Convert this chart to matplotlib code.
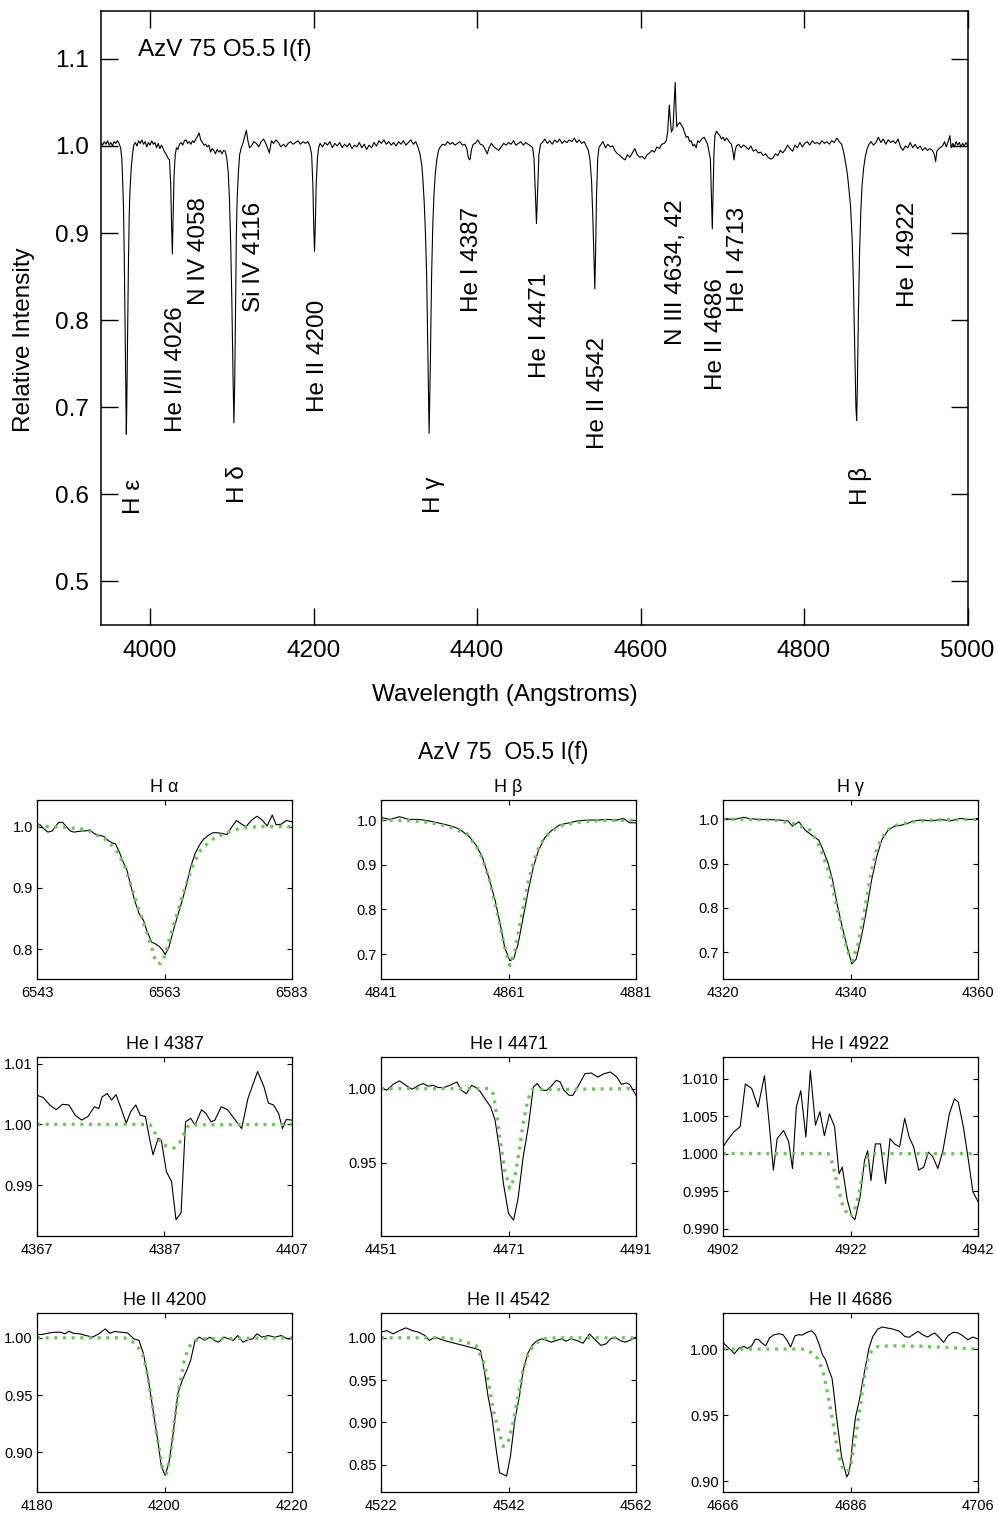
import matplotlib
matplotlib.use("Agg")
import matplotlib.pyplot as plt
from matplotlib.ticker import FormatStrFormatter

plt.rcParams["font.family"] = ["Liberation Sans", "DejaVu Sans"]

# ---------------- top panel: full blue spectrum ----------------
top_wave = [
    3940, 3942, 3944, 3946, 3948, 3950, 3952, 3954, 3956, 3958, 3960, 3962,
    # H epsilon
    3964, 3965.5, 3966.5, 3967.5, 3968.5, 3969.5, 3970.5, 3971, 3971.5, 3972.5,
    3973.5, 3974.5, 3975.5, 3977, 3978.5, 3980,
    3982, 3984, 3986, 3988, 3990, 3992, 3994, 3996, 3998, 4000,
    4002, 4004, 4006, 4008, 4010, 4012, 4014, 4016, 4018, 4020, 4022,
    # He I 4026
    4023.8, 4025.3, 4026.3, 4027.3, 4028.3, 4029.3, 4030.8, 4032.3,
    4034, 4036, 4038, 4040, 4042, 4044, 4046, 4048, 4050, 4052,
    4054, 4056, 4058, 4060, 4062, 4064, 4066, 4068, 4070, 4072,
    4074, 4076, 4078, 4080, 4082, 4084, 4086, 4088, 4090, 4092,
    # H delta
    4094, 4095.6, 4097.1, 4098.6, 4100.1, 4101.6, 4102.6, 4103.6, 4104.6, 4105.6,
    4106.6, 4108.1, 4109.6, 4111.6,
    # Si IV
    4113.6, 4115.6, 4117.8, 4119.7, 4121.7,
    4124, 4127, 4130, 4133, 4136, 4139, 4142, 4146, 4148.5, 4151,
    4154, 4157, 4160, 4163, 4166, 4169, 4172, 4175, 4178, 4181,
    4184, 4187, 4190, 4193, 4195.6,
    # He II 4200
    4197.7, 4199.2, 4200.2, 4201.2, 4202.2, 4203.2, 4204.7, 4206.2,
    4208, 4211, 4214, 4217, 4220, 4223, 4226, 4229, 4232, 4235,
    4238, 4241, 4244, 4247, 4250, 4253, 4256, 4259, 4262, 4265,
    4268, 4271, 4274, 4277, 4280, 4283, 4286, 4289, 4292, 4295,
    4298, 4301, 4304, 4307, 4310, 4313, 4316, 4319, 4322, 4325,
    4328,
    # H gamma
    4330.4, 4332.4, 4333.9, 4335.4, 4336.9, 4338.4, 4339.9, 4341.4, 4342.9, 4344.4,
    4345.9, 4347.4, 4348.9, 4350.9, 4352.9,
    4355, 4358, 4361, 4364, 4367, 4370, 4373, 4376, 4379, 4382,
    4385, 4387.5, 4389.5, 4391.3, 4393.3, 4395.3, 4398, 4401, 4404, 4407,
    4410.5, 4412.6, 4414.6, 4417.6, 4420.6, 4423.6, 4426.6, 4429.6, 4432.6, 4435.6,
    4438.6, 4441.6, 4444.6, 4447.6, 4450.6, 4453.6, 4456.6, 4459.6, 4462.6, 4465.6,
    # He I 4471
    4468.2, 4469.7, 4471.2, 4472.7, 4474.2, 4475.7, 4477.7,
    4480, 4483, 4486, 4489, 4492, 4495, 4498, 4501, 4504, 4507,
    4510, 4513, 4516, 4519, 4522, 4525, 4528, 4531, 4534,
    # He II 4542
    4536.1, 4538.1, 4540.1, 4541.6, 4543.1, 4544.1, 4545.1, 4546.1, 4547.6, 4549.1,
    4551, 4554, 4557, 4560, 4563, 4566, 4569, 4572, 4575, 4578,
    4581, 4584, 4587, 4590, 4593, 4596, 4599, 4602, 4605, 4608,
    4611, 4614, 4617, 4620, 4623, 4626, 4629, 4631.5,
    # N III emission
    4633.2, 4635.2, 4636.5, 4637.8, 4639.7, 4641.3, 4642.4, 4643.3, 4644.3, 4646,
    4648, 4650, 4652, 4654, 4656, 4658, 4660, 4662, 4664, 4666,
    4668, 4670, 4672, 4674, 4676, 4678, 4680, 4682,
    # He II 4686
    4685.5, 4686.5, 4687.8, 4688.8, 4689.8, 4691, 4693, 4695, 4697, 4699,
    4701, 4703, 4705, 4707, 4709,
    # He I 4713
    4711.3, 4713.3, 4714.4, 4715.8, 4717.3,
    4720, 4723, 4726, 4729, 4732, 4735, 4738, 4741, 4744, 4747,
    4750, 4753, 4756, 4759, 4762, 4765, 4768, 4771, 4774, 4777,
    4780, 4783, 4786, 4789, 4792, 4795, 4798, 4801, 4804, 4807,
    4810, 4813, 4816, 4819, 4822, 4825, 4828, 4831, 4834, 4837,
    4840, 4843,
    # H beta
    4846, 4848.5, 4851, 4853, 4855, 4857, 4859, 4860.5, 4862, 4863.5,
    4864.4, 4865.2, 4866.6, 4868, 4869.5, 4871, 4873, 4875, 4877, 4879,
    4882, 4885, 4888, 4891, 4894, 4897, 4900, 4903, 4906, 4909,
    4912, 4915, 4918, 4921, 4924, 4927, 4930, 4933, 4936, 4939,
    4942, 4945, 4948, 4951, 4954, 4957, 4959.5, 4961, 4962.5, 4965,
    4968, 4970, 4972, 4974, 4976, 4978.5, 4980, 4982, 4984, 4986,
    4988, 4990, 4992, 4994, 4996, 4998, 5000,
]
top_flux = [
    1.004, 1.001, 1.005, 1.002, 1.006, 1.001, 1.004, 1.000, 1.005, 1.003, 1.006, 1.003,
    0.998, 0.985, 0.960, 0.930, 0.870, 0.790, 0.710, 0.669, 0.700, 0.780,
    0.860, 0.920, 0.950, 0.975, 0.990, 1.001,
    1.004, 1.000, 1.006, 1.003, 1.007, 1.002, 1.005, 0.999, 1.004, 1.001,
    1.006, 1.002, 1.004, 0.998, 1.003, 0.997, 1.001, 0.997, 0.993, 0.990, 0.986,
    0.984, 0.955, 0.910, 0.876, 0.920, 0.965, 0.990, 0.998,
    0.996, 1.002, 1.004, 1.001, 1.006, 1.007, 1.003, 1.005, 1.002, 1.006,
    1.004, 1.008, 1.011, 1.015, 1.007, 1.004, 1.001, 1.002, 0.999, 1.001,
    0.993, 0.997, 0.995, 0.991, 0.996, 0.993, 0.995, 0.991, 0.995, 0.994,
    0.985, 0.970, 0.940, 0.890, 0.820, 0.730, 0.682, 0.730, 0.820, 0.900,
    0.940, 0.970, 0.990, 0.998,
    1.003, 1.010, 1.018, 1.006, 0.998,
    1.000, 1.005, 1.003, 0.999, 1.005, 1.008, 1.002, 0.992, 1.006, 1.003,
    1.007, 1.004, 0.999, 1.002, 0.999, 1.003, 1.005, 1.002, 1.004, 1.006,
    1.002, 1.005, 1.003, 1.005, 1.000,
    0.990, 0.955, 0.910, 0.879, 0.910, 0.955, 0.985, 0.998,
    1.003, 0.999, 1.004, 1.001, 1.005, 0.998, 1.003, 1.000, 1.004, 0.998,
    1.002, 0.999, 1.003, 0.997, 1.001, 0.999, 1.004, 0.998, 1.002, 0.996,
    1.001, 0.998, 1.004, 1.000, 1.006, 1.003, 1.007, 1.002, 1.005, 1.001,
    1.004, 1.000, 1.005, 1.002, 1.006, 1.001, 1.004, 1.007, 1.002, 1.005,
    0.998,
    0.990, 0.978, 0.960, 0.935, 0.900, 0.850, 0.760, 0.670, 0.750, 0.850,
    0.910, 0.945, 0.968, 0.985, 0.995,
    0.999, 1.002, 1.001, 1.005, 1.002, 1.004, 1.001, 1.003, 1.005, 1.001,
    1.002, 0.997, 0.986, 0.984, 0.996, 1.002, 1.003, 1.007, 1.002, 1.001,
    0.995, 0.991, 0.998, 1.003, 0.999, 0.997, 0.995, 0.999, 1.003, 1.001,
    1.004, 1.002, 1.006, 1.001, 1.003, 1.005, 1.001, 1.004, 1.002, 1.000,
    0.998, 0.985, 0.950, 0.911, 0.950, 0.990, 1.002,
    1.004, 1.008, 1.003, 1.006, 1.002, 1.007, 1.004, 1.008, 1.003, 1.006,
    1.004, 1.007, 1.005, 1.009, 1.004, 1.007, 1.003, 1.005, 0.999,
    0.995, 0.985, 0.960, 0.920, 0.870, 0.836, 0.880, 0.940, 0.985, 0.998,
    1.001, 1.005, 0.998, 1.002, 0.999, 1.000, 0.994, 0.991, 0.989, 0.986,
    0.984, 0.990, 0.987, 0.992, 0.997, 0.990, 0.987, 0.988, 0.985, 0.990,
    0.992, 0.995, 0.993, 0.999, 0.997, 1.002, 1.003, 1.006,
    1.016, 1.047, 1.030, 1.016, 1.020, 1.050, 1.073, 1.045, 1.022, 1.025,
    1.027, 1.024, 1.021, 1.015, 1.010, 1.011, 1.005, 1.006, 1.000, 1.002,
    0.998, 1.006, 1.004, 1.007, 1.009, 1.010, 1.006, 1.002,
    0.985, 0.950, 0.905, 0.950, 0.990, 1.012, 1.017, 1.014, 1.012, 1.008,
    1.010, 1.006, 1.009, 1.007, 1.004,
    1.002, 0.992, 0.984, 0.995, 1.000,
    1.002, 0.998, 1.001, 0.999, 0.996, 1.000, 0.994, 0.996, 0.992, 0.993,
    0.989, 0.991, 0.987, 0.985, 0.986, 0.991, 0.989, 0.995, 0.992, 0.996,
    1.001, 0.997, 0.994, 1.001, 0.998, 1.004, 0.999, 1.003, 1.005, 1.001,
    1.006, 1.003, 1.004, 1.002, 1.006, 1.003, 1.005, 1.002, 1.006, 1.004,
    1.009, 1.005,
    1.002, 0.993, 0.980, 0.968, 0.950, 0.930, 0.890, 0.840, 0.770, 0.700,
    0.685, 0.720, 0.810, 0.880, 0.925, 0.955, 0.975, 0.988, 0.996, 1.001,
    1.005, 1.001, 1.004, 1.010, 1.004, 1.008, 1.002, 1.007, 1.004, 1.006,
    1.003, 1.008, 0.999, 0.995, 1.000, 0.998, 1.004, 0.998, 1.002, 0.997,
    1.000, 0.995, 0.998, 0.995, 0.997, 0.995, 0.990, 0.982, 0.994, 0.997,
    0.999, 1.001, 1.005, 0.999, 1.004, 1.012, 0.998, 1.003, 0.999, 1.005,
    1.001, 1.004, 0.999, 1.003, 1.000, 1.004, 1.001,
]

line_labels = ["H ε", "He I/II 4026", "N IV 4058", "H δ", "Si IV 4116", "He II 4200",
               "H γ", "He I 4387", "He I 4471", "He II 4542", "N III 4634, 42",
               "He II 4686", "He I 4713", "H β", "He I 4922"]
label_x = [3980.4, 4031.8, 4060.0, 4107.6, 4127.2, 4205.5,
           4347.4, 4393.9, 4477.0, 4548.0, 4643.4,
           4692.4, 4719.3, 4868.5, 4927.2]
label_y = [0.578, 0.672, 0.818, 0.590, 0.809, 0.694,
           0.579, 0.809, 0.734, 0.652, 0.772,
           0.720, 0.809, 0.588, 0.815]

# ---------------- small panels: observed (black) and model (green) ----------------
ha_obs_w = [6543.0, 6543.5, 6544.0, 6544.7, 6545.4, 6545.8, 6546.4, 6547.0, 6547.6, 6548.2,
            6548.8, 6549.4, 6550.1, 6550.7, 6551.3, 6551.9, 6552.6, 6553.5, 6554.2, 6554.9,
            6555.3, 6555.9, 6556.4, 6557.1, 6557.7, 6558.3, 6559.0, 6559.7, 6560.3, 6561.0,
            6561.5, 6562.2, 6562.7, 6563.1, 6563.7, 6564.4, 6565.0, 6565.8, 6566.5, 6567.1,
            6567.8, 6568.5, 6569.1, 6569.9, 6570.6, 6571.3, 6572.0, 6572.8, 6573.4, 6574.3,
            6575.1, 6575.8, 6576.6, 6577.5, 6578.3, 6579.1, 6579.9, 6580.5, 6581.3, 6582.1,
            6583.0]
ha_obs_f = [1.005, 1.003, 0.997, 0.991, 0.993, 0.999, 1.007, 1.007, 1.000, 0.993,
            0.991, 0.992, 0.993, 0.993, 0.995, 0.989, 0.986, 0.984, 0.977, 0.973,
            0.972, 0.959, 0.945, 0.929, 0.904, 0.880, 0.858, 0.847, 0.828, 0.811,
            0.809, 0.804, 0.798, 0.791, 0.803, 0.831, 0.852, 0.880, 0.907, 0.934,
            0.956, 0.970, 0.979, 0.986, 0.990, 0.990, 0.989, 0.987, 0.997, 1.010,
            1.004, 1.000, 1.010, 1.017, 1.011, 1.001, 1.019, 1.003, 1.004, 1.010,
            1.008]
ha_mod_w = [6543.0, 6547.2, 6550.9, 6552.4, 6554.0, 6555.6, 6556.9, 6558.0, 6559.0, 6560.1,
            6561.0, 6561.6, 6562.4, 6563.1, 6563.7, 6564.5, 6565.3, 6566.1, 6566.9, 6567.7,
            6568.7, 6569.8, 6570.8, 6571.9, 6573.2, 6574.5, 6576.1, 6578.2, 6583.0]
ha_mod_f = [1.001, 0.999, 0.995, 0.986, 0.978, 0.959, 0.932, 0.896, 0.863, 0.831,
            0.803, 0.779, 0.776, 0.790, 0.814, 0.842, 0.869, 0.896, 0.921, 0.943,
            0.962, 0.973, 0.981, 0.986, 0.992, 0.996, 0.999, 1.000, 1.000]

hb_obs_w = [4841.0, 4842.4, 4843.9, 4845.4, 4846.9, 4848.4, 4849.9, 4851.4, 4852.4, 4853.4,
            4854.9, 4855.9, 4856.9, 4857.9, 4858.9, 4859.7, 4860.4, 4861.2, 4861.8, 4862.5,
            4863.3, 4864.1, 4864.9, 4865.7, 4866.7, 4867.7, 4869.0, 4870.5, 4872.0, 4873.5,
            4875.0, 4876.5, 4878.0, 4879.0, 4880.0, 4881.0]
hb_obs_f = [1.006, 1.0015, 1.0075, 1.0015, 1.0015, 0.9985, 0.994, 0.989, 0.985, 0.979,
            0.962, 0.944, 0.917, 0.872, 0.820, 0.767, 0.715, 0.685, 0.689, 0.722,
            0.782, 0.842, 0.895, 0.932, 0.961, 0.976, 0.989, 0.994, 0.9985, 1.000,
            1.000, 1.0015, 1.000, 1.004, 0.994, 0.994]
hb_mod_w = [4841.0, 4845.0, 4848.5, 4851.4, 4854.4, 4856.4, 4857.9, 4859.4, 4860.4, 4861.2,
            4862.0, 4863.0, 4864.0, 4865.0, 4866.0, 4867.5, 4869.5, 4871.5, 4874.5, 4881.0]
hb_mod_f = [1.000, 0.999, 0.995, 0.986, 0.970, 0.932, 0.872, 0.782, 0.715, 0.674,
            0.707, 0.782, 0.857, 0.910, 0.947, 0.974, 0.989, 0.994, 0.9985, 1.000]

hg_obs_w = [4320.0, 4321.7, 4323.2, 4324.2, 4325.7, 4327.2, 4328.7, 4330.2, 4330.9, 4331.9,
            4332.9, 4333.9, 4335.0, 4335.7, 4336.5, 4337.2, 4337.9, 4338.7, 4339.5, 4340.2,
            4340.9, 4341.7, 4342.5, 4343.3, 4344.1, 4344.9, 4345.9, 4346.9, 4347.9, 4348.9,
            4349.9, 4351.2, 4352.7, 4354.2, 4355.7, 4357.2, 4358.7, 4360.0]
hg_obs_f = [1.0015, 0.999, 1.004, 1.001, 0.999, 0.999, 0.998, 0.996, 0.984, 0.994,
            0.975, 0.964, 0.953, 0.930, 0.900, 0.862, 0.809, 0.757, 0.711, 0.674,
            0.685, 0.734, 0.794, 0.862, 0.915, 0.953, 0.975, 0.984, 0.986, 0.990,
            0.996, 0.998, 0.996, 0.999, 0.996, 1.0015, 0.999, 1.0015]
hg_mod_w = [4320.0, 4328.0, 4331.0, 4333.7, 4335.2, 4336.7, 4338.2, 4339.5, 4340.3, 4341.2,
            4342.2, 4343.2, 4344.2, 4345.7, 4347.2, 4349.7, 4352.7, 4360.0]
hg_mod_f = [1.000, 0.998, 0.990, 0.975, 0.937, 0.877, 0.779, 0.704, 0.681, 0.719,
            0.794, 0.877, 0.937, 0.975, 0.986, 0.994, 0.998, 0.999]

he4387_obs_w = [4367.0, 4368.0, 4369.0, 4370.0, 4371.0, 4372.0, 4373.0, 4374.0, 4375.0, 4376.0,
                4376.7, 4377.2, 4378.0, 4378.7, 4379.4, 4380.2, 4381.0, 4381.7, 4382.5, 4383.2,
                4384.0, 4384.7, 4385.2, 4386.0, 4386.5, 4387.3, 4388.1, 4388.8, 4389.6, 4390.3,
                4391.1, 4391.8, 4392.8, 4393.5, 4394.3, 4394.9, 4395.9, 4396.9, 4397.9, 4399.1,
                4400.1, 4401.6, 4402.6, 4403.3, 4404.1, 4404.9, 4405.5, 4406.1, 4407.0]
he4387_obs_f = [1.0048, 1.0044, 1.0032, 1.0024, 1.0033, 1.0032, 1.0015, 1.0007, 1.0013, 1.0029,
                1.0026, 1.0045, 1.0051, 1.0040, 1.0049, 1.0026, 1.0002, 1.0021, 1.0032, 1.0015,
                1.0013, 0.9974, 0.9950, 0.9977, 0.9974, 0.9922, 0.9906, 0.9843, 0.9854, 1.0004,
                1.0010, 0.9999, 1.0024, 1.0018, 1.0004, 1.0007, 1.0029, 1.0024, 1.0010, 0.9993,
                1.0043, 1.0087, 1.0062, 1.0035, 1.0032, 1.0018, 0.9993, 1.0008, 1.0007]
he4387_mod_w = [4367.0, 4384.7, 4385.2, 4386.0, 4386.7, 4387.8, 4388.5, 4389.3, 4390.1, 4390.8, 4407.0]
he4387_mod_f = [1.0000, 1.0000, 0.9991, 0.9977, 0.9966, 0.9963, 0.9961, 0.9969, 0.9985, 0.9999, 1.0000]

he4471_obs_w = [4451.0, 4451.9, 4452.9, 4453.9, 4454.9, 4455.9, 4456.9, 4457.6, 4458.4, 4459.2,
                4460.0, 4460.8, 4461.8, 4462.9, 4463.6, 4464.4, 4465.2, 4465.9, 4466.6, 4467.4,
                4468.2, 4468.9, 4469.6, 4470.2, 4471.0, 4471.8, 4472.5, 4473.3, 4474.1, 4474.9,
                4475.5, 4476.3, 4477.0, 4477.7, 4478.5, 4479.1, 4479.7, 4480.5, 4481.1, 4482.0,
                4483.0, 4484.0, 4485.0, 4486.0, 4487.0, 4488.0, 4488.7, 4489.5, 4490.0, 4491.0]
he4471_obs_f = [1.0007, 0.9989, 1.0029, 1.0052, 1.0022, 0.9996, 1.0022, 1.0034, 1.0016, 1.0022,
                1.0007, 1.0007, 1.0022, 1.0045, 0.9989, 0.9966, 1.0022, 1.0007, 0.9978, 0.9926,
                0.9877, 0.9787, 0.9585, 0.9361, 0.9159, 0.9114, 0.9260, 0.9540, 0.9742, 1.0011,
                1.0034, 0.9989, 0.9989, 1.0016, 1.0056, 1.0045, 0.9989, 0.9955, 0.9955, 1.0022,
                1.0101, 1.0105, 1.0078, 1.0101, 1.0112, 1.0078, 1.0029, 1.0038, 1.0029, 0.9955]
he4471_mod_w = [4451.0, 4467.9, 4468.6, 4469.2, 4469.7, 4470.4, 4471.2, 4472.0, 4472.7, 4473.3,
                4474.0, 4474.7, 4491.0]
he4471_mod_f = [1.0000, 1.0000, 0.9966, 0.9810, 0.9650, 0.9450, 0.9327, 0.9406, 0.9585, 0.9765,
                0.9922, 0.9993, 1.0000]

he4922_obs_w = [4902.0, 4902.7, 4903.7, 4904.7, 4905.5, 4906.5, 4907.5, 4908.5, 4909.2, 4909.9,
                4910.5, 4911.5, 4912.3, 4912.9, 4913.5, 4914.2, 4915.0, 4915.7, 4916.5, 4917.2,
                4917.9, 4918.7, 4919.5, 4920.2, 4920.7, 4921.5, 4922.2, 4922.7, 4923.5, 4924.2,
                4924.7, 4925.2, 4925.9, 4926.7, 4927.5, 4928.2, 4928.9, 4929.7, 4930.5, 4931.2,
                4931.9, 4932.7, 4933.5, 4934.2, 4934.9, 4935.7, 4936.5, 4937.5, 4938.3, 4938.9,
                4939.7, 4940.5, 4941.2, 4942.0]
he4922_obs_f = [1.0009, 1.0018, 1.0029, 1.0036, 1.0093, 1.0087, 1.0062, 1.0104, 1.0044, 0.9978,
                1.0020, 1.0031, 1.0016, 0.9980, 1.0062, 1.0084, 1.0022, 1.0111, 1.0038, 1.0056,
                1.0024, 1.0053, 1.0036, 0.9973, 0.9982, 0.9938, 0.9916, 0.9912, 0.9942, 0.9991,
                1.0004, 0.9964, 1.0013, 1.0013, 0.9960, 1.0020, 1.0013, 1.0009, 1.0047, 1.0022,
                1.0009, 0.9978, 0.9982, 1.0002, 0.9996, 0.9980, 1.0004, 1.0053, 1.0073, 1.0069,
                1.0036, 0.9991, 0.9949, 0.9936]
he4922_mod_w = [4902.0, 4918.5, 4919.2, 4919.9, 4920.7, 4921.7, 4922.5, 4923.2, 4923.9, 4924.7,
                4925.5, 4942.0]
he4922_mod_f = [1.0000, 1.0000, 0.9987, 0.9960, 0.9933, 0.9916, 0.9920, 0.9942, 0.9973, 0.9996,
                1.0000, 1.0000]

he4200_obs_w = [4180.0, 4180.7, 4181.7, 4182.7, 4183.7, 4184.4, 4185.0, 4185.7, 4186.7, 4187.7,
                4188.7, 4189.7, 4190.7, 4191.4, 4192.2, 4193.2, 4194.2, 4195.2, 4196.0, 4196.7,
                4197.4, 4198.2, 4199.0, 4199.5, 4200.1, 4200.7, 4201.3, 4202.1, 4202.8, 4203.5,
                4204.1, 4204.8, 4205.5, 4206.3, 4207.1, 4207.8, 4208.5, 4209.3, 4210.1, 4210.8,
                4211.5, 4212.3, 4213.1, 4213.8, 4214.5, 4215.3, 4216.3, 4217.3, 4218.3, 4219.3,
                4220.0]
he4200_obs_f = [1.0029, 1.0029, 1.0040, 1.0049, 1.0049, 1.0035, 1.0058, 1.0040, 1.0035, 1.0020,
                1.0006, 1.0035, 1.0078, 1.0040, 1.0055, 1.0049, 1.0043, 0.9991, 0.9977, 0.9861,
                0.9659, 0.9370, 0.9081, 0.8879, 0.8798, 0.8908, 0.9139, 0.9514, 0.9630, 0.9717,
                0.9803, 0.9977, 1.0006, 0.9977, 1.0006, 0.9977, 0.9962, 1.0006, 0.9991, 0.9977,
                1.0020, 0.9962, 0.9983, 0.9991, 1.0035, 1.0006, 1.0020, 1.0006, 1.0020, 0.9991,
                0.9991]
he4200_mod_w = [4180.0, 4193.7, 4194.7, 4195.7, 4196.7, 4197.4, 4198.2, 4199.0, 4199.7, 4200.3,
                4200.9, 4201.6, 4202.3, 4203.1, 4203.8, 4204.8, 4206.3, 4220.0]
he4200_mod_f = [1.0000, 1.0000, 0.9977, 0.9934, 0.9832, 0.9659, 0.9370, 0.9080, 0.8850, 0.8815,
                0.8965, 0.9280, 0.9570, 0.9800, 0.9919, 0.9977, 0.9991, 1.0000]

he4542_obs_w = [4522.0, 4522.9, 4523.9, 4524.9, 4525.9, 4526.9, 4527.9, 4528.9, 4529.6, 4530.4,
                4531.2, 4531.9, 4532.9, 4533.9, 4534.9, 4535.9, 4536.9, 4537.6, 4538.2, 4538.8,
                4539.4, 4540.0, 4540.6, 4541.2, 4541.7, 4542.3, 4543.0, 4543.7, 4544.3, 4545.0,
                4545.7, 4546.5, 4547.3, 4548.0, 4548.7, 4549.5, 4550.3, 4551.0, 4551.8, 4552.7,
                4553.7, 4554.7, 4555.7, 4556.5, 4557.3, 4558.0, 4558.7, 4559.5, 4560.3, 4561.0,
                4562.0]
he4542_obs_f = [1.0067, 1.0086, 1.0047, 1.0086, 1.0118, 1.0086, 1.0067, 1.0027, 0.9969, 1.0008,
                0.9988, 0.9969, 0.9949, 0.9929, 0.9910, 0.9890, 0.9871, 0.9851, 0.9616, 0.9303,
                0.9068, 0.8715, 0.8402, 0.8382, 0.8363, 0.8598, 0.9029, 0.9303, 0.9616, 0.9812,
                0.9910, 0.9969, 0.9988, 0.9969, 0.9949, 0.9969, 0.9988, 0.9961, 0.9988, 0.9969,
                0.9937, 1.0047, 0.9969, 0.9910, 0.9929, 0.9988, 1.0008, 0.9969, 0.9949, 0.9969,
                1.0008]
he4542_mod_w = [4522.0, 4532.4, 4534.4, 4536.9, 4538.2, 4538.9, 4539.6, 4540.4, 4541.2, 4541.9,
                4542.7, 4543.5, 4544.3, 4545.1, 4546.0, 4547.5, 4549.5, 4562.0]
he4542_mod_f = [1.0000, 1.0000, 0.9969, 0.9910, 0.9694, 0.9460, 0.9146, 0.8911, 0.8715, 0.8754,
                0.8990, 0.9303, 0.9616, 0.9812, 0.9922, 0.9988, 1.0000, 1.0000]

he4686_obs_w = [4666.0, 4666.6, 4667.2, 4667.8, 4668.5, 4669.3, 4669.8, 4670.5, 4671.1, 4671.6,
                4672.1, 4672.7, 4673.3, 4674.0, 4674.8, 4675.4, 4676.0, 4676.6, 4677.3, 4677.9,
                4678.4, 4679.2, 4679.9, 4680.5, 4681.1, 4681.6, 4682.1, 4682.6, 4683.1, 4683.4,
                4683.8, 4684.2, 4684.6, 4685.0, 4685.4, 4685.7, 4686.0, 4686.4, 4686.8, 4687.4,
                4687.9, 4688.4, 4688.9, 4689.5, 4690.3, 4691.0, 4691.8, 4692.6, 4693.7, 4694.5,
                4695.2, 4695.8, 4696.6, 4697.3, 4698.1, 4698.7, 4699.2, 4700.0, 4700.6, 4701.3,
                4702.1, 4702.9, 4703.6, 4704.4, 4705.2, 4706.0]
he4686_obs_f = [1.0051, 1.0020, 0.9995, 0.9965, 1.0008, 1.0020, 1.0005, 1.0025, 1.0076, 1.0071,
                1.0046, 1.0025, 1.0084, 1.0109, 1.0116, 1.0109, 1.0071, 1.0015, 1.0101, 1.0109,
                1.0106, 1.0127, 1.0139, 1.0109, 1.0033, 0.9957, 0.9919, 0.9843, 0.9780, 0.9666,
                0.9489, 0.9337, 0.9185, 0.9109, 0.9033, 0.9058, 0.9134, 0.9337, 0.9489, 0.9615,
                0.9754, 0.9881, 1.0008, 1.0096, 1.0152, 1.0167, 1.0159, 1.0152, 1.0134, 1.0096,
                1.0089, 1.0109, 1.0134, 1.0109, 1.0091, 1.0109, 1.0122, 1.0084, 1.0051, 1.0101,
                1.0127, 1.0122, 1.0101, 1.0071, 1.0091, 1.0076]
he4686_mod_w = [4666.0, 4678.4, 4679.2, 4680.0, 4680.8, 4681.6, 4682.1, 4682.6, 4683.2, 4683.7,
                4684.2, 4684.7, 4685.3, 4685.7, 4686.2, 4686.7, 4687.3, 4687.8, 4688.3, 4688.8,
                4689.5, 4690.3, 4692.6, 4697.9, 4706.0]
he4686_mod_f = [1.0000, 1.0000, 0.9990, 0.9970, 0.9932, 0.9843, 0.9742, 0.9615, 0.9463, 0.9311,
                0.9185, 0.9109, 0.9071, 0.9084, 0.9160, 0.9311, 0.9489, 0.9666, 0.9818, 0.9944,
                1.0000, 1.0020, 1.0025, 1.0020, 1.0000]

panel_titles = ["H α", "H β", "H γ",
                "He I 4387", "He I 4471", "He I 4922",
                "He II 4200", "He II 4542", "He II 4686"]
panel_xticks = [[6543, 6563, 6583], [4841, 4861, 4881], [4320, 4340, 4360],
                [4367, 4387, 4407], [4451, 4471, 4491], [4902, 4922, 4942],
                [4180, 4200, 4220], [4522, 4542, 4562], [4666, 4686, 4706]]
panel_ylim = [(0.751, 1.0435), (0.644, 1.045), (0.640, 1.043),
              (0.9816, 1.0111), (0.9007, 1.0213), (0.989, 1.0129),
              (0.8653, 1.0217), (0.8175, 1.0294), (0.8919, 1.0273)]
panel_yticks = [[0.8, 0.9, 1.0], [0.7, 0.8, 0.9, 1.0], [0.7, 0.8, 0.9, 1.0],
                [0.99, 1.00, 1.01], [0.95, 1.00], [0.990, 0.995, 1.000, 1.005, 1.010],
                [0.90, 0.95, 1.00], [0.85, 0.90, 0.95, 1.00], [0.90, 0.95, 1.00]]
panel_yfmt = ["%.1f", "%.1f", "%.1f", "%.2f", "%.2f", "%.3f", "%.2f", "%.2f", "%.2f"]

obs_w = [ha_obs_w, hb_obs_w, hg_obs_w, he4387_obs_w, he4471_obs_w, he4922_obs_w,
         he4200_obs_w, he4542_obs_w, he4686_obs_w]
obs_f = [ha_obs_f, hb_obs_f, hg_obs_f, he4387_obs_f, he4471_obs_f, he4922_obs_f,
         he4200_obs_f, he4542_obs_f, he4686_obs_f]
mod_w = [ha_mod_w, hb_mod_w, hg_mod_w, he4387_mod_w, he4471_mod_w, he4922_mod_w,
         he4200_mod_w, he4542_mod_w, he4686_mod_w]
mod_f = [ha_mod_f, hb_mod_f, hg_mod_f, he4387_mod_f, he4471_mod_f, he4922_mod_f,
         he4200_mod_f, he4542_mod_f, he4686_mod_f]

# ---------------- figure ----------------
W, H = 997, 1516
fig = plt.figure(figsize=(W / 100, H / 100), dpi=100)


def axes_px(left, top, right, bottom):
    """Axes from pixel edges (origin top-left)."""
    return fig.add_axes([left / W, 1 - bottom / H, (right - left) / W, (bottom - top) / H])


ax = axes_px(101, 11, 967.5, 625)
ax.plot(top_wave, top_flux, color="black", lw=0.8)
ax.set_xlim(3940, 5000)
ax.set_ylim(0.45, 1.155)
ax.set_xticks([4000, 4200, 4400, 4600, 4800, 5000])
ax.set_yticks([0.5, 0.6, 0.7, 0.8, 0.9, 1.0, 1.1])
ax.yaxis.set_major_formatter(FormatStrFormatter("%.1f"))
ax.tick_params(direction="in", length=12, width=1.0, top=True, right=True, labelsize=17.5)
ax.tick_params(axis="y", pad=9)
ax.tick_params(axis="x", pad=11)
for s in ax.spines.values():
    s.set_linewidth(1.1)
ax.text(3985.3, 1.11, "AzV 75 O5.5 I(f)", fontsize=17.5, ha="left", va="center")
for txt, x, y in zip(line_labels, label_x, label_y):
    ax.text(x, y, txt, rotation=90, fontsize=17.5, ha="center", va="bottom")
fig.text(24 / W, 1 - 340 / H, "Relative Intensity", rotation=90, fontsize=17.5,
         ha="center", va="center")
fig.text(505 / W, 1 - 695 / H, "Wavelength (Angstroms)", fontsize=17.5,
         ha="center", va="center")

fig.text(503 / W, 1 - 753 / H, "AzV 75  O5.5 I(f)", fontsize=16.5, ha="center", va="center")

col_left = [37, 381, 723]
row_top = [800, 1057, 1313]
pw, ph = 255, 179
for i in range(9):
    r, c = divmod(i, 3)
    a = axes_px(col_left[c], row_top[r], col_left[c] + pw, row_top[r] + ph)
    a.plot(obs_w[i], obs_f[i], color="black", lw=0.8)
    a.plot(mod_w[i], mod_f[i], color="#6cc45c", lw=2.4, dashes=(0.9, 1.7))
    xt = panel_xticks[i]
    a.set_xlim(xt[0], xt[-1])
    a.set_ylim(*panel_ylim[i])
    a.set_xticks(xt)
    a.set_xticklabels([str(v) for v in xt])
    a.set_yticks(panel_yticks[i])
    a.yaxis.set_major_formatter(FormatStrFormatter(panel_yfmt[i]))
    a.tick_params(direction="in", length=3.5, width=0.8, top=True, right=True, labelsize=10.5)
    a.tick_params(axis="x", pad=5)
    a.tick_params(axis="y", pad=3)
    for s in a.spines.values():
        s.set_linewidth(0.9)
    a.set_title(panel_titles[i], fontsize=13, pad=5.5)

fig.savefig("out.png", dpi=100)
